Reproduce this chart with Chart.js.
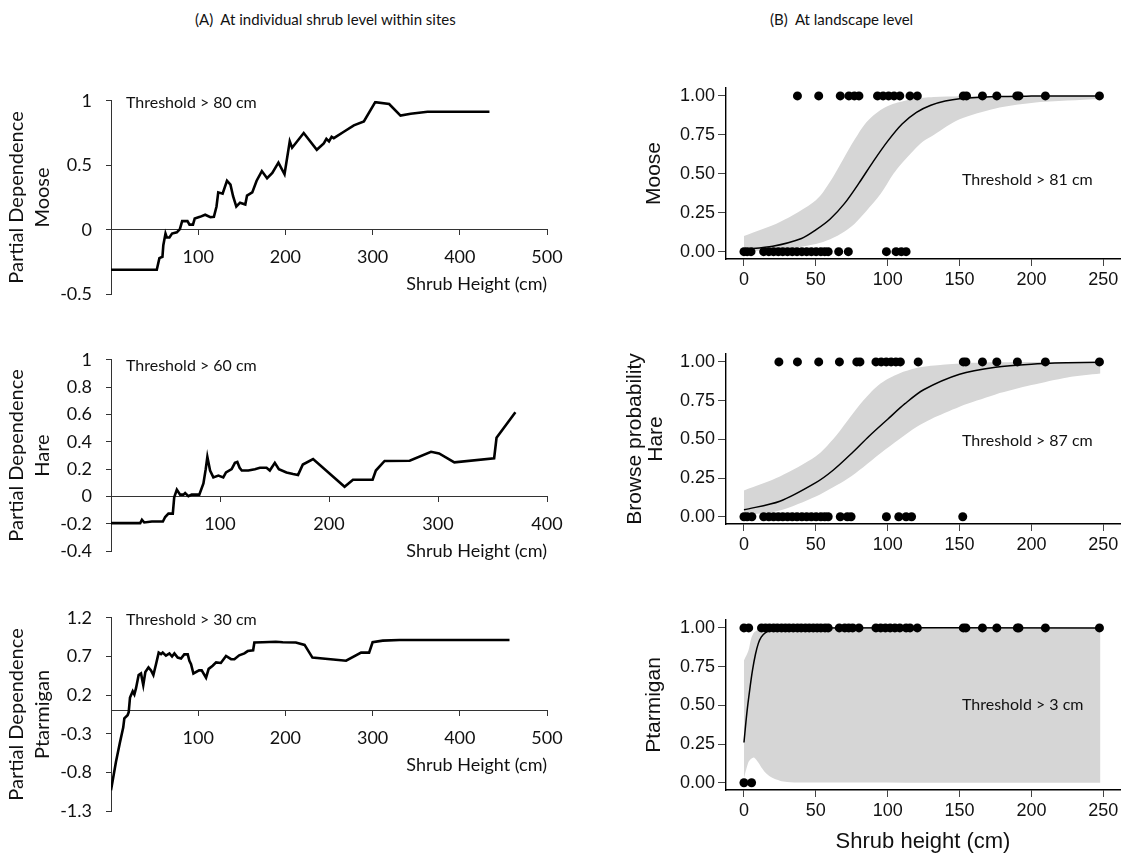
<!DOCTYPE html>
<html>
<head>
<meta charset="utf-8">
<script src="https://cdn.jsdelivr.net/npm/chart.js@4.4.0/dist/chart.umd.min.js"></script>
<style>
  html, body { margin: 0; padding: 0; background: #fff; width: 1146px; height: 857px; overflow: hidden; }
  canvas { position: absolute; }
  .lbl { position: absolute; font-family: Lato, sans-serif; color: #111; white-space: pre; line-height: 1; }
  .thr { font-size: 16px; }
</style>
</head>
<body>
<div class="lbl" style="left:195px; top:12px; font-size:15px;">(A)  At individual shrub level within sites</div>
<div class="lbl" style="left:770px; top:12px; font-size:15px;">(B)  At landscape level</div>

<canvas id="mooseA" width="575" height="243" style="left:0; top:76px;"></canvas>
<canvas id="hareA" width="575" height="241" style="left:0; top:335px;"></canvas>
<canvas id="ptarA" width="575" height="243" style="left:0; top:593px;"></canvas>
<canvas id="mooseB" width="546" height="261" style="left:600px; top:68px;"></canvas>
<canvas id="hareB" width="546" height="260" style="left:600px; top:334px;"></canvas>
<canvas id="ptarB" width="546" height="260" style="left:600px; top:600px;"></canvas>

<div class="lbl thr" style="left:126px; top:94px;">Threshold &gt; 80 cm</div>
<div class="lbl thr" style="left:126px; top:357px;">Threshold &gt; 60 cm</div>
<div class="lbl thr" style="left:126px; top:611px;">Threshold &gt; 30 cm</div>
<div class="lbl thr" style="left:962px; top:171px;">Threshold &gt; 81 cm</div>
<div class="lbl thr" style="left:962px; top:432px;">Threshold &gt; 87 cm</div>
<div class="lbl thr" style="left:962px; top:696px;">Threshold &gt; 3 cm</div>

<script>
// (A) partial dependence curves, shrub height (cm) vs partial dependence
const mooseHeightA = [0, 52.5, 55.5, 59, 60, 62.5, 64, 67, 70, 75.5, 79, 81.6, 87.7, 90, 94, 96, 102, 108, 114, 118,
  121, 123, 128, 133, 137, 140, 143.7, 148, 154, 156, 162, 167, 173, 179, 185, 192, 199, 205, 207.7, 221,
  236, 244, 247, 250, 253, 255.5, 267, 278.5, 290, 303, 319, 332, 343.7, 363, 434];
const moosePdA = [-0.31, -0.31, -0.22, -0.21, -0.12, -0.03, -0.06, -0.06, -0.03, -0.02, 0.005, 0.067, 0.067, 0.04, 0.04, 0.087, 0.10, 0.116, 0.097, 0.10,
  0.18, 0.29, 0.28, 0.38, 0.35, 0.26, 0.18, 0.21, 0.195, 0.265, 0.29, 0.38, 0.455, 0.40, 0.44, 0.52, 0.43, 0.685, 0.636, 0.75,
  0.62, 0.67, 0.705, 0.685, 0.72, 0.71, 0.76, 0.81, 0.84, 0.99, 0.975, 0.885, 0.90, 0.915, 0.915];

const hareHeightA = [0, 26.8, 28.4, 30.5, 37.5, 47.6, 49.7, 52.7, 56.7, 58, 60.4, 63.4, 66.5, 68, 71, 74, 81, 84.8, 86.9, 88.4,
  90.9, 93.9, 98.5, 103, 105.5, 110.7, 113.7, 115.9, 118, 120, 126, 132, 136.6, 142.7, 145.7, 150.3, 154, 161, 167, 171.6,
  176, 185.4, 214.3, 222, 240, 243, 251, 274, 293.6, 301, 315, 351.5, 353.7, 371];
const harePdA = [-0.195, -0.195, -0.17, -0.19, -0.183, -0.183, -0.15, -0.125, -0.125, -0.005, 0.05, 0.014, 0.014, 0.025, 0.002, 0.014, 0.014, 0.095, 0.2, 0.29,
  0.19, 0.14, 0.153, 0.14, 0.176, 0.2, 0.246, 0.253, 0.21, 0.19, 0.19, 0.2, 0.21, 0.21, 0.19, 0.246, 0.2, 0.176, 0.165, 0.158,
  0.234, 0.274, 0.072, 0.123, 0.123, 0.19, 0.26, 0.262, 0.327, 0.315, 0.25, 0.28, 0.43, 0.617];

const ptarHeightA = [0, 5.7, 10.3, 14, 15.3, 19, 20.3, 21.8, 24.9, 26.8, 28.7, 31.7, 34.4, 37, 39.4, 43, 45.9, 48.6, 51.6, 54.7,
  57.4, 59.3, 63, 67, 70, 72.7, 76.5, 80.3, 84, 88, 89.9, 91.8, 94.5, 101, 104, 109, 112, 116.6, 120.5, 126,
  131.9, 137.7, 141.5, 147, 153, 156.8, 163, 164.4, 174, 189, 197, 212, 222, 231, 269.6, 286.8, 296, 300, 311.6, 330.8, 457];
const ptarPdA = [-1.03, -0.66, -0.41, -0.22, -0.1, -0.06, -0.02, 0.17, 0.25, 0.21, 0.29, 0.46, 0.48, 0.33, 0.5, 0.56, 0.52, 0.46, 0.6, 0.75,
  0.73, 0.75, 0.71, 0.74, 0.70, 0.74, 0.686, 0.674, 0.727, 0.727, 0.645, 0.60, 0.48, 0.52, 0.52, 0.426, 0.54, 0.58, 0.624, 0.616,
  0.707, 0.665, 0.665, 0.715, 0.74, 0.77, 0.78, 0.88, 0.884, 0.89, 0.884, 0.88, 0.85, 0.686, 0.645, 0.75, 0.75, 0.884, 0.905, 0.913, 0.913];

// (B) observed shrubs: browsed (1) and not browsed (0), by height (cm)
const mooseBrowsed = [37.2, 52, 67, 73, 76.8, 80, 92.9, 96.8, 100.6, 104.4, 108.4, 115.5, 120.6, 152.6, 154.8, 165.9, 175.9, 189.8, 191.3, 209.7, 247.3];
const mooseUnbrowsed = [0, 2.2, 4.9, 13.7, 17.3, 20.6, 23.9, 27, 30.3, 33.6, 36.9, 40.3, 43.6, 46.9, 50.2, 53.5, 56.2, 58.6, 65.9, 72.6, 99.1, 105.8, 109.5, 112.8];
const hareBrowsed = [24.3, 37.2, 52, 66.4, 78.5, 80.7, 91.8, 95.5, 99, 102.4, 105.7, 108.8, 121.2, 152.6, 154.4, 165.9, 175.9, 190.2, 209.7, 247.3];
const hareUnbrowsed = [0, 2.2, 5.5, 13.7, 17.3, 20.6, 23.9, 27, 30.3, 33.6, 36.9, 40.3, 43.6, 46.9, 50.2, 53.5, 56.2, 58.6, 67, 71.9, 74.5, 99.1, 107.7, 112.8, 116.6, 152.2];
const ptarBrowsed = [0, 3.3, 12.2, 15, 17.7, 20.6, 23.2, 26.1, 28.8, 31.4, 34.3, 37.2, 39.8, 42.7, 45.4, 48.2, 50.9, 53.5, 56.4, 58.6,
  66.3, 70.1, 72.9, 75.6, 80, 91.8, 95.1, 98.4, 101.7, 105, 108.4, 112.8, 115.5, 120.6, 152.6, 154.4, 165.9, 175.9, 190.2, 191.3, 209.7, 247.3];
const ptarUnbrowsed = [0, 5.3];

// (B) fitted browse probability and confidence band
const mooseFitX = [0, 20, 40, 50, 60, 70, 80, 90, 100, 110, 120, 130, 140, 150, 175, 200, 248];
const mooseFitY = [0.015, 0.035, 0.085, 0.14, 0.21, 0.31, 0.44, 0.58, 0.71, 0.82, 0.895, 0.94, 0.967, 0.982, 0.996, 0.999, 1.0];
const mooseBandX = [0, 25, 50, 60, 70, 77, 85, 95, 104, 110, 118, 125, 132, 150, 175, 200, 225, 248];
const mooseBandHi = [0.10, 0.19, 0.33, 0.45, 0.61, 0.72, 0.83, 0.91, 0.95, 0.965, 0.98, 0.988, 0.993, 0.998, 1, 1, 1, 1];
const mooseBandLo = [0.003, 0.012, 0.05, 0.08, 0.13, 0.18, 0.26, 0.37, 0.5, 0.57, 0.65, 0.71, 0.75, 0.85, 0.92, 0.955, 0.97, 0.98];

const hareFitX = [0, 25, 50, 62, 75, 87, 100, 112, 125, 150, 175, 200, 225, 248];
const hareFitY = [0.045, 0.10, 0.22, 0.30, 0.41, 0.52, 0.63, 0.73, 0.82, 0.92, 0.965, 0.985, 0.994, 0.998];
const hareBandX = [0, 25, 50, 62, 72, 83, 95, 108, 120, 130, 150, 162, 175, 200, 225, 248];
const hareBandHi = [0.17, 0.26, 0.39, 0.5, 0.62, 0.75, 0.86, 0.925, 0.96, 0.975, 0.99, 0.994, 0.997, 0.999, 1, 1];
const hareBandLo = [0.01, 0.04, 0.13, 0.19, 0.245, 0.32, 0.41, 0.5, 0.58, 0.63, 0.71, 0.75, 0.79, 0.85, 0.9, 0.925];

const ptarFitX = [0, 2, 4, 6, 8, 10, 12, 15, 20, 30, 248];
const ptarFitY = [0.26, 0.45, 0.6, 0.73, 0.83, 0.9, 0.94, 0.97, 0.99, 1.0, 1.0];
const ptarBandX = [0, 3, 5, 7, 10, 12, 15, 20, 25, 30, 40, 248];
const ptarBandHi = [0.79, 0.85, 0.93, 0.97, 0.99, 0.997, 1, 1, 1, 1, 1, 1];
const ptarBandLo = [0.03, 0.13, 0.155, 0.163, 0.13, 0.1, 0.065, 0.03, 0.013, 0.005, 0.001, 0];

const fontA = size => ({ family: 'Lato', size: size });
const fontB = size => ({ family: 'Liberation Sans', size: size });

function pairs(xs, ys) {
  return xs.map((x, i) => ({ x: x, y: ys[i] }));
}

function fmtA(v) {
  if (Math.abs(v) < 1e-9) return '0';
  return String(Math.round(v * 10) / 10);
}

function panelA(id, xs, ys, yMin, yMax, yStep, xMax, yTitle) {
  new Chart(document.getElementById(id), {
    type: 'line',
    data: {
      datasets: [{
        data: pairs(xs, ys),
        borderColor: '#000',
        borderWidth: 2.6,
        pointRadius: 0,
        tension: 0,
        fill: false
      }]
    },
    options: {
      responsive: false,
      animation: false,
      devicePixelRatio: 1,
      layout: { padding: { left: 0, top: 20, right: 28, bottom: 20 } },
      plugins: { legend: { display: false }, tooltip: { enabled: false } },
      scales: {
        x: {
          type: 'linear',
          min: 0,
          max: xMax,
          position: { y: 0 },
          ticks: { stepSize: 100, padding: 12, color: '#111', font: fontA(18), callback: v => v === 0 ? '' : v },
          grid: { drawOnChartArea: false, tickLength: 5, color: '#333' },
          border: { color: '#333', width: 1 },
          title: { display: true, text: 'Shrub Height (cm)', align: 'end', color: '#111', font: fontA(18), padding: 0 },
          afterFit: s => { s.height = 65; }
        },
        y: {
          type: 'linear',
          min: yMin,
          max: yMax,
          ticks: { stepSize: yStep, padding: 14, color: '#111', font: fontA(18), callback: fmtA },
          grid: { drawOnChartArea: false, tickLength: 5, color: '#333' },
          border: { color: '#333', width: 1 },
          title: {
            display: true,
            text: ['Partial Dependence', yTitle],
            color: '#111',
            font: { family: 'Lato', size: 20, lineHeight: 1.3 },
            padding: { top: 4, bottom: 0 }
          },
          afterFit: s => { s.width = 111; }
        }
      }
    }
  });
}

function panelB(id, browsed, unbrowsed, fitX, fitY, bandX, bandHi, bandLo, yTitle, titlePad, titleLh, xTitle) {
  new Chart(document.getElementById(id), {
    type: 'line',
    data: {
      datasets: [
        { data: browsed.map(x => ({ x: x, y: 1 })), showLine: false, pointRadius: 4.5, pointBackgroundColor: '#000', pointBorderWidth: 0, order: 0 },
        { data: unbrowsed.map(x => ({ x: x, y: 0 })), showLine: false, pointRadius: 4.5, pointBackgroundColor: '#000', pointBorderWidth: 0, order: 0 },
        { data: pairs(fitX, fitY), borderColor: '#000', borderWidth: 1.5, pointRadius: 0, tension: 0.3, fill: false, order: 1 },
        { data: pairs(bandX, bandHi), borderWidth: 0, borderColor: 'rgba(0,0,0,0)', pointRadius: 0, tension: 0.3, fill: '+1', backgroundColor: '#d6d6d6', order: 2 },
        { data: pairs(bandX, bandLo), borderWidth: 0, borderColor: 'rgba(0,0,0,0)', pointRadius: 0, tension: 0.3, fill: false, order: 3 }
      ]
    },
    options: {
      responsive: false,
      animation: false,
      devicePixelRatio: 1,
      layout: { padding: { left: 0, top: 20, right: 26, bottom: 0 } },
      plugins: { legend: { display: false }, tooltip: { enabled: false } },
      scales: {
        x: {
          type: 'linear',
          min: -12.5,
          max: 261.6,
          ticks: { stepSize: 50, includeBounds: false, padding: 3, color: '#111', font: fontB(18) },
          grid: { drawOnChartArea: false, tickLength: 7, color: '#444', lineWidth: 1 },
          border: { color: '#000', width: 1.4 },
          title: { display: !!xTitle, text: xTitle || '', color: '#111', font: fontB(22), padding: { top: 0, bottom: 5 } },
          afterFit: s => { s.height = 70; }
        },
        y: {
          type: 'linear',
          min: -0.047,
          max: 1.051,
          ticks: { stepSize: 0.25, includeBounds: false, padding: 3, color: '#111', font: fontB(18), callback: v => v.toFixed(2) },
          grid: { drawOnChartArea: false, tickLength: 8, color: '#444', lineWidth: 1 },
          border: { color: '#000', width: 1.4 },
          title: {
            display: true,
            text: yTitle,
            color: '#111',
            font: { family: 'Liberation Sans', size: 21, lineHeight: titleLh },
            padding: { top: titlePad, bottom: 0 }
          },
          afterFit: s => { s.width = 126; }
        }
      }
    }
  });
}

panelA('mooseA', mooseHeightA, moosePdA, -0.5, 1, 0.5, 500, 'Moose');
panelA('hareA', hareHeightA, harePdA, -0.4, 1, 0.2, 400, 'Hare');
panelA('ptarA', ptarHeightA, ptarPdA, -1.3, 1.2, 0.5, 500, 'Ptarmigan');

panelB('mooseB', mooseBrowsed, mooseUnbrowsed, mooseFitX, mooseFitY, mooseBandX, mooseBandHi, mooseBandLo, 'Moose', 42, 1.2);
panelB('hareB', hareBrowsed, hareUnbrowsed, hareFitX, hareFitY, hareBandX, hareBandHi, hareBandLo, ['Browse probability', 'Hare'], 25, 1.0);
panelB('ptarB', ptarBrowsed, ptarUnbrowsed, ptarFitX, ptarFitY, ptarBandX, ptarBandHi, ptarBandLo, 'Ptarmigan', 42, 1.2, 'Shrub height (cm)');
</script>
</body>
</html>
